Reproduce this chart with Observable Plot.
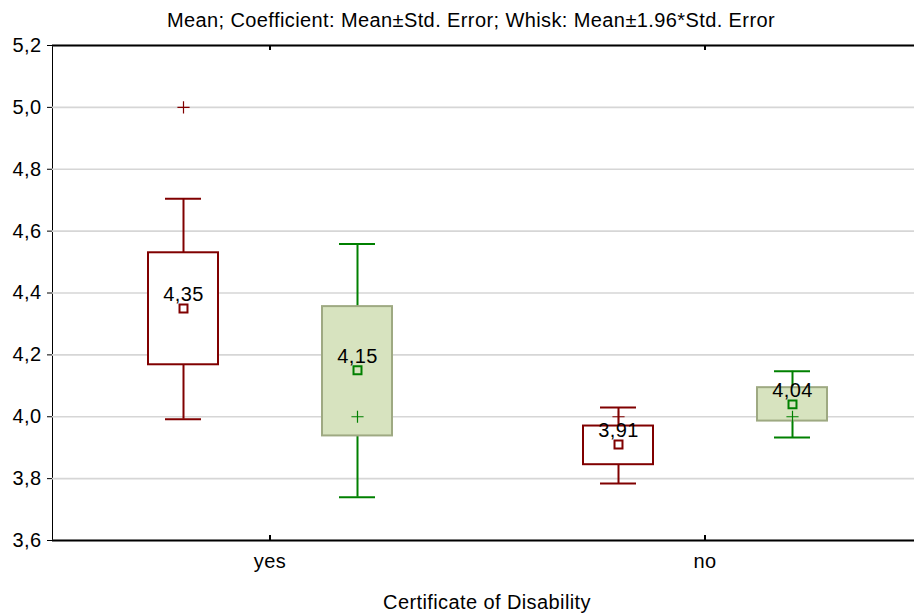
<!DOCTYPE html>
<html>
<head>
<meta charset="utf-8">
<script src="https://cdn.jsdelivr.net/npm/d3@7"></script>
<script src="https://cdn.jsdelivr.net/npm/@observablehq/plot@0.6"></script>
<style>
  html, body { margin: 0; padding: 0; background: #fff; overflow: hidden; width: 914px; height: 614px; }
  #wrap { position: relative; width: 914px; height: 614px; overflow: hidden; }
  .lbl { position: absolute; font-family: "Liberation Sans", Arial, sans-serif; font-size: 20px; letter-spacing: 0.4px; line-height: 20px; color: #000; text-align: center; white-space: nowrap; }
  #wrap > svg { position: absolute; left: 0; top: 0; max-width: none !important; }
</style>
</head>
<body>
<div id="wrap">
  <div class="lbl" id="title" style="left:0; width:942px; top:10px;">Mean; Coefficient: Mean±Std. Error; Whisk: Mean±1.96*Std. Error</div>
  <div class="lbl" id="xlabel" style="left:0; width:974px; top:592px;">Certificate of Disability</div>
</div>
<script>
// ---- data ----
const certificates = ["yes", "no"];
const groups = ["group 1", "group 2"];
const rowCert  = ["yes", "yes", "no", "no"];
const rowGroup = ["group 1", "group 2", "group 1", "group 2"];
const means   = [4.35, 4.15, 3.91, 4.04];
const boxLo   = [4.168, 3.938, 3.845, 3.986];
const boxHi   = [4.530, 4.356, 3.970, 4.094];
const whiskLo = [3.992, 3.740, 3.784, 3.933];
const whiskHi = [4.705, 4.558, 4.030, 4.147];
const plusVals = [5.0, 4.0, 4.0, 4.0];
const yTicks = [3.6, 3.8, 4.0, 4.2, 4.4, 4.6, 4.8, 5.0, 5.2];

const comma = (v, n) => v.toFixed(n).replace(".", ",");

const rows = rowCert.map((c, i) => ({
  cert: c, group: rowGroup[i], mean: means[i], lo: boxLo[i], hi: boxHi[i],
  wlo: whiskLo[i], whi: whiskHi[i], plus: plusVals[i], label: comma(means[i], 2)
}));

const RED = "#800000", GREEN = "#008000", GFILL = "#d7e3bf", GSTROKE = "#9ea982";
const colorOf = d => d.group === groups[0] ? RED : GREEN;
const boxFill = d => d.group === groups[0] ? "#ffffff" : GFILL;
const boxStroke = d => d.group === groups[0] ? RED : GSTROKE;

const W = 922, H = 614, MT = 45, MB = 74;
const innerH = H - MT - MB;

const chart = Plot.plot({
  width: W,
  height: H,
  marginLeft: 52,
  marginRight: 0,
  marginTop: MT,
  marginBottom: MB,
  style: { fontFamily: "Liberation Sans, Arial, sans-serif", fontSize: "20px", letterSpacing: "0.4px", color: "#000", background: "transparent", overflow: "visible", maxWidth: "none", width: W + "px", height: H + "px" },
  fx: { domain: certificates, padding: 0, axis: "bottom", label: null, tickSize: 0, tickPadding: 13 },
  x: { domain: groups, axis: null, paddingInner: 0.6, paddingOuter: 0.543 },
  y: { domain: [3.6, 5.2], ticks: yTicks, tickFormat: d => comma(d, 1), tickSize: 5, tickPadding: 6, label: null, line: true },
  marks: [
    Plot.gridY(yTicks, { stroke: "#d6d6d6", strokeOpacity: 1, strokeWidth: 1.6 }),
    Plot.ruleY([5.2, 3.6], { stroke: "#000", strokeWidth: 2 }),
    Plot.ruleX([0], { x: null, insetTop: innerH - 5, stroke: "#000", strokeWidth: 2 }),
    Plot.ruleX([0], { x: null, insetBottom: innerH - 5, stroke: "#000", strokeWidth: 2 }),
    Plot.ruleX(rows, { fx: "cert", x: "group", y1: "wlo", y2: "whi", stroke: colorOf, strokeWidth: 2 }),
    Plot.tickY(rows, { fx: "cert", x: "group", y: "wlo", stroke: colorOf, strokeWidth: 2, insetLeft: 17, insetRight: 17 }),
    Plot.tickY(rows, { fx: "cert", x: "group", y: "whi", stroke: colorOf, strokeWidth: 2, insetLeft: 17, insetRight: 17 }),
    Plot.barY(rows, { fx: "cert", x: "group", y1: "lo", y2: "hi", fill: boxFill, stroke: boxStroke, strokeWidth: 2 }),
    Plot.dot(rows, { fx: "cert", x: "group", y: "plus", symbol: "plus", r: 4, stroke: colorOf, strokeWidth: 1.2 }),
    Plot.dot(rows, { fx: "cert", x: "group", y: "mean", symbol: "square", r: 4.5, stroke: colorOf, fill: "none", strokeWidth: 2 }),
    Plot.text(rows, { fx: "cert", x: "group", y: "mean", text: "label", dy: -14, fill: "#000", fontSize: 20 })
  ]
});
document.getElementById("wrap").prepend(chart);
</script>
</body>
</html>
